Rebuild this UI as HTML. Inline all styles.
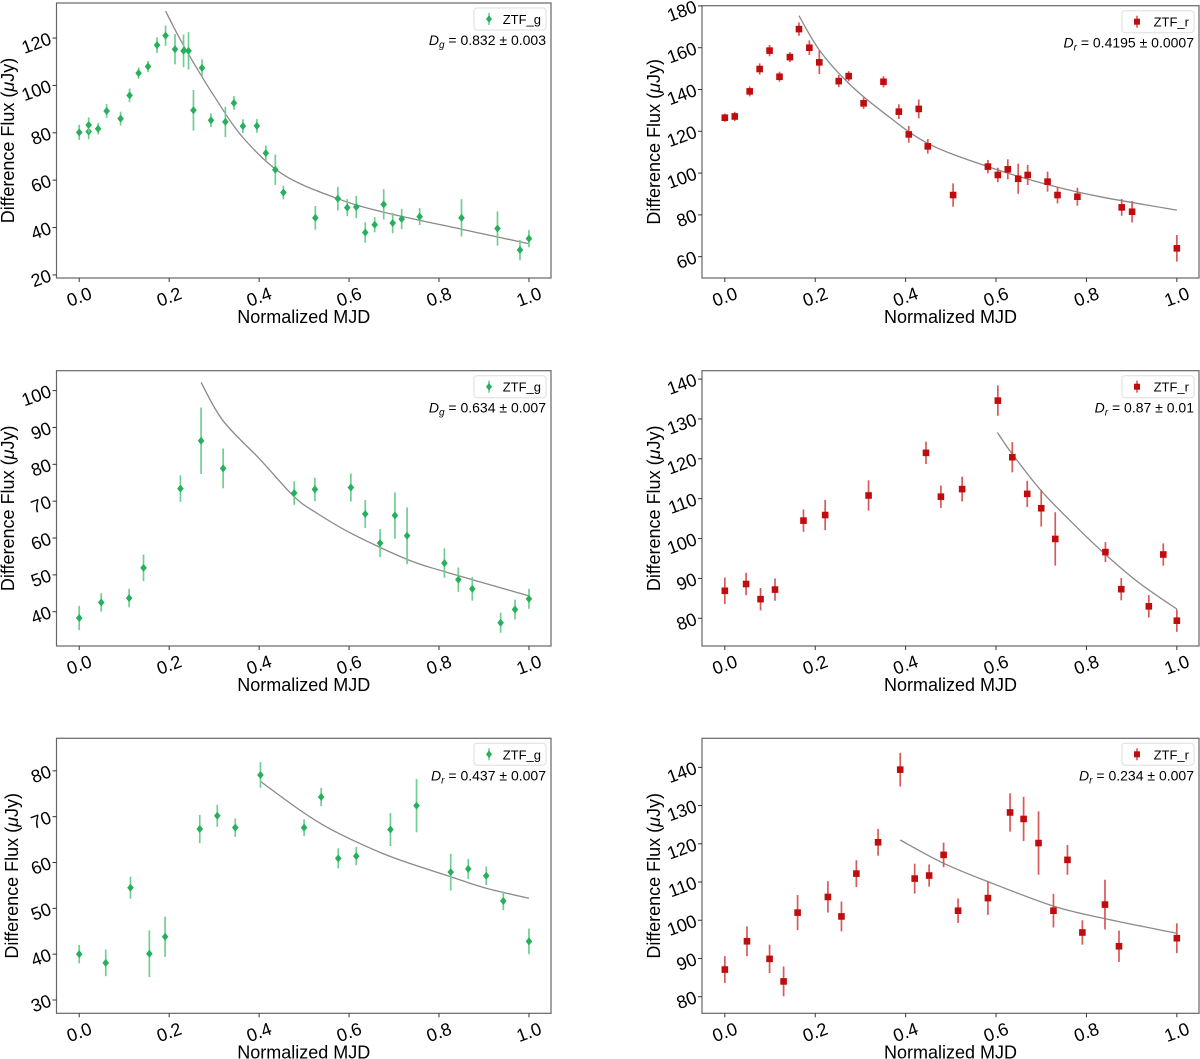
<!DOCTYPE html>
<html><head><meta charset="utf-8"><style>
html,body{margin:0;padding:0;background:#fff;}
svg{display:block;font-family:"Liberation Sans","DejaVu Sans",sans-serif;}
</style></head><body>
<svg id="fig" width="1200" height="1059" viewBox="0 0 1200 1059" xmlns="http://www.w3.org/2000/svg"></svg>
<script>
// ---- Panel 1 (ZTF_g, top left)
const p1X=[0,.021,.021,.042,.061,.092,.112,.132,.153,.173,.192,.213,.232,.243,.254,.273,.293,.325,.344,.364,.395,.415,.436,.454,.525,.575,.596,.616,.636,.657,.677,.697,.717,.757,.85,.93,.98,1.0];
const p1Y=[80.2,80.5,83.3,81.7,89.2,86,95.8,105.2,108,117,121,115.3,114.6,114.6,89.5,107.4,85.3,84.6,92.6,82.8,82.9,71.4,64.4,54.8,44.1,52.2,48.4,48.7,37.9,41.2,49.8,41.9,43.6,44.6,44.1,39.6,30.5,35.3];
const p1E=[3.2,3.2,3.2,2.4,2.9,2.9,2.9,2.4,2.3,3.3,4.3,6.4,6.9,7.9,8.6,3.6,2.9,6.4,2.9,2.9,2.9,3.2,6.4,2.9,5,5,3.6,4.7,4.3,3.2,6.4,4.3,4.3,3.6,7.9,7.2,4.3,3.6];
const p1FitX=[.192,.22,.25,.301,.364,.454,.575,.677,.85,1.0];
const p1FitY=[131.4,121,111,95.2,78,62.3,52.2,46.5,39.3,33.2];
const p1YTicks=[20,40,60,80,100,120];
// ---- Panel 2 (ZTF_r, top right)
const p2X=[0,.022,.055,.077,.099,.121,.144,.164,.187,.209,.252,.274,.307,.351,.385,.407,.429,.449,.505,.582,.604,.626,.649,.67,.714,.736,.78,.878,.901,1.0];
const p2Y=[126.5,127.1,139.1,149.8,158.6,146.1,155.5,168.9,160,153,144,146.4,133.4,143.7,129.4,118.5,130.7,112.8,89.5,103.1,99.1,101.8,97.3,99.1,95.9,89.5,88.7,83.6,81.5,64];
const p2E=[2,2.2,2.4,2.7,2.7,2.4,2.4,3.2,3.5,5.6,2.9,2.4,2.7,2.7,3.5,4,4.5,3.5,5.6,3.2,3.5,4.8,7.2,4.8,4.8,4,4.3,4,5.1,6.4];
const p2FitX=[.164,.209,.274,.353,.449,.582,.714,.83,1.0];
const p2FitY=[175.3,158.9,142.9,128.6,114.2,103.1,94.5,88.7,82.3];
const p2YTicks=[60,80,100,120,140,160,180];
// ---- Panel 3 (ZTF_g, middle left)
const p3X=[0,.049,.111,.143,.225,.271,.32,.478,.524,.604,.636,.669,.702,.729,.812,.843,.874,.937,.969,1.0];
const p3Y=[38.3,42.5,43.7,51.9,73.4,86.4,78.9,72.2,73.2,73.7,66.5,58.6,66.1,60.6,53.2,48.7,46.2,37,40.6,43.5];
const p3E=[3.3,2.5,2.5,3.6,3.6,9,5.4,3.2,3.2,3.8,3.8,3.8,6.3,7.7,4,3.3,3.2,2.7,2.7,2.7];
const p3FitX=[.271,.32,.403,.478,.524,.604,.729,.812,1.0];
const p3FitY=[102.2,91.8,81.2,71.2,67.1,61.3,54.2,50.9,44.3];
const p3YTicks=[40,50,60,70,80,90,100];
// ---- Panel 4 (ZTF_r, middle right)
const p4X=[0,.047,.079,.111,.174,.222,.318,.445,.478,.525,.604,.636,.669,.7,.731,.842,.877,.938,.97,1.0];
const p4Y=[86.9,88.6,84.8,87.2,104.5,105.9,110.8,121.5,110.5,112.4,134.6,120.4,111.2,107.6,99.9,96.6,87.3,83,96,79.4];
const p4E=[3.3,2.8,2.8,2.8,2.8,3.8,3.8,2.8,2.8,3.1,3.8,3.8,3.3,4.6,6.7,2.5,2.8,2.8,2.8,2.8];
const p4FitX=[.603,.636,.7,.77,.842,.915,1.0];
const p4FitY=[126.6,121.2,112,103.8,96,89,82.3];
const p4YTicks=[80,90,100,110,120,130,140];
// ---- Panel 5 (ZTF_g, bottom left)
const p5X=[0,.059,.114,.156,.191,.268,.307,.347,.403,.5,.538,.576,.616,.692,.75,.826,.865,.905,.943,1.0];
const p5Y=[40,38.1,54.5,40.1,43.8,67.3,70.2,67.6,79.1,67.6,74.3,60.9,61.4,67.2,72.4,57.9,58.6,57.1,51.6,42.8];
const p5E=[2,2.9,2.4,5.1,4.4,3.1,2.4,2,2.8,1.8,2,2.2,2,3.6,5.8,4,2.2,2,2,2.8];
const p5FitX=[.403,.5,.576,.692,.826,.905,1.0];
const p5FitY=[77.7,70.8,66.4,61.3,56.9,54.4,52.2];
const p5YTicks=[30,40,50,60,70,80];
// ---- Panel 6 (ZTF_r, bottom right)
const p6X=[0,.049,.099,.13,.161,.228,.258,.291,.339,.388,.42,.452,.484,.516,.582,.631,.661,.694,.727,.758,.791,.841,.872,1.0];
const p6Y=[87.1,94.5,89.9,84,102,106.1,101,112.2,120.4,139.4,110.9,111.7,117.1,102.5,105.8,128.2,126.5,120.2,102.5,115.8,96.8,104.1,93.2,95.3];
const p6E=[3.5,3.9,3.7,3.9,4.6,4.1,3.9,3.5,3.5,4.4,3.9,2.9,3.2,3.2,4.4,5,5.8,8.3,4.4,3.9,3.2,6.5,4.1,3.9];
const p6FitX=[.388,.484,.582,.727,.842,1.0];
const p6FitY=[121,114.9,110.1,103.7,100.4,96.6];
const p6YTicks=[80,90,100,110,120,130,140];
const xTickVals=[0,0.2,0.4,0.6,0.8,1.0];
const xTickLabels=["0.0","0.2","0.4","0.6","0.8","1.0"];

const NS="http://www.w3.org/2000/svg";
const svg=document.getElementById('fig');
function mk(tag,attrs,parent){const e=document.createElementNS(NS,tag);for(const k in attrs)e.setAttribute(k,attrs[k]);(parent||svg).appendChild(e);return e;}
function smoothPath(P){
  let d=`M${P[0][0].toFixed(1)},${P[0][1].toFixed(1)}`;
  for(let i=0;i<P.length-1;i++){
    const p0=P[i-1]||P[i],p1=P[i],p2=P[i+1],p3=P[i+2]||p2;
    const c1=[p1[0]+(p2[0]-p0[0])/6,p1[1]+(p2[1]-p0[1])/6];
    const c2=[p2[0]-(p3[0]-p1[0])/6,p2[1]-(p3[1]-p1[1])/6];
    d+=` C${c1[0].toFixed(1)},${c1[1].toFixed(1)} ${c2[0].toFixed(1)},${c2[1].toFixed(1)} ${p2[0].toFixed(1)},${p2[1].toFixed(1)}`;
  }
  return d;
}

function panel(cfg){
  const g=mk('g',{});
  
  
  const L=cfg.l,R=cfg.r,T=cfg.t,B=cfg.b;
  const xmin=-0.0505,xmax=1.049;
  const sx=v=>L+(v-xmin)/(xmax-xmin)*(R-L);
  const sy=v=>B-(v-cfg.ymin)/(cfg.ymax-cfg.ymin)*(B-T);
  const frame=mk('rect',{x:L,y:T,width:R-L,height:B-T,fill:'none',stroke:'#666','stroke-width':1.2},g);
  
  
  xTickVals.forEach((v,i)=>{
    const x=sx(v);
    mk('line',{x1:x,y1:B,x2:x,y2:B+4,stroke:'#333','stroke-width':1},g);
    const t=mk('text',{x:x,y:B+25,'font-size':18,'text-anchor':'middle',fill:'#000',transform:`rotate(-20 ${x} ${B+19})`},g);
    t.textContent=xTickLabels[i];
    
    
  });
  cfg.yticks.forEach(v=>{
    const y=sy(v);
    mk('line',{x1:L-4,y1:y,x2:L,y2:y,stroke:'#333','stroke-width':1},g);
    const t=mk('text',{x:L-6,y:y+6,'font-size':18,'text-anchor':'end',fill:'#000',transform:`rotate(-20 ${L-6} ${y})`},g);
    t.textContent=String(v);
    
    
  });
  const xl=mk('text',{x:(L+R)/2,y:B+45,'font-size':18,'text-anchor':'middle',fill:'#000'},g);
  xl.textContent='Normalized MJD';
  
  
  const ylx=cfg.ylx, yly=(T+B)/2;
  const yl=mk('text',{x:ylx,y:yly,'font-size':18,'text-anchor':'middle',fill:'#000',transform:`rotate(-90 ${ylx} ${yly})`},g);
  yl.innerHTML='Difference Flux (<tspan font-style="italic">μ</tspan>Jy)';
  
  
  const P=cfg.fx.map((v,i)=>[sx(v),sy(cfg.fy[i])]);
  const fl=mk('path',{d:smoothPath(P),fill:'none',stroke:'#8a8a8a','stroke-width':1.3},g);
  
  
  cfg.x.forEach((v,i)=>{
    const x=sx(v),y=sy(cfg.y[i]);
    const eb=mk('line',{x1:x,y1:sy(cfg.y[i]-cfg.e[i]),x2:x,y2:sy(cfg.y[i]+cfg.e[i]),stroke:cfg.ecol,'stroke-width':1.7},g);
    
    
    let m;
    if(cfg.marker==='d'){m=mk('polygon',{points:`${x},${y-4} ${x+3.3},${y} ${x},${y+4} ${x-3.3},${y}`,fill:cfg.col},g);}
    else{m=mk('rect',{x:x-3.3,y:y-3.3,width:6.6,height:6.6,fill:cfg.col},g);}
    
    
  });
  const lg=mk('g',{},g);
  
  
  mk('rect',{x:R-77,y:T+5,width:72,height:22,rx:3,fill:'#fff',stroke:'#ddd','stroke-width':1},lg);
  const mx=R-62,my=T+16;
  mk('line',{x1:mx,y1:my-6,x2:mx,y2:my+6,stroke:cfg.ecol,'stroke-width':1.6},lg);
  if(cfg.marker==='d')mk('polygon',{points:`${mx},${my-3.8} ${mx+3},${my} ${mx},${my+3.8} ${mx-3},${my}`,fill:cfg.col},lg);
  else mk('rect',{x:mx-3,y:my-3,width:6,height:6,fill:cfg.col},lg);
  const lt=mk('text',{x:R-10,y:my+5,'font-size':13,'text-anchor':'end',fill:'#000'},lg);
  lt.textContent=cfg.label;
  const an=mk('text',{x:R-5,y:T+42,'font-size':14,'text-anchor':'end',fill:'#000'},g);
  an.innerHTML=`<tspan font-style="italic">D</tspan><tspan font-style="italic" font-size="10" dy="3">${cfg.sub}</tspan><tspan dy="-3"> = ${cfg.ann}</tspan>`;
  
  
}
const G='#25b05c',GE='#6fcf92',Rc='#bf0d0d',RE='#d65a5a';
panel({name:'panel-top-left',l:56.5,r:551,t:3,b:278,ymin:18.7,ymax:134.8,yticks:p1YTicks,x:p1X,y:p1Y,e:p1E,fx:p1FitX,fy:p1FitY,col:G,ecol:GE,marker:'d',label:'ZTF_g',sub:'g',ann:'0.832 ± 0.003',ylx:14});
panel({name:'panel-top-right',l:702,r:1199,t:5.7,b:278,ymin:49.8,ymax:180.1,yticks:p2YTicks,x:p2X,y:p2Y,e:p2E,fx:p2FitX,fy:p2FitY,col:Rc,ecol:RE,marker:'s',label:'ZTF_r',sub:'r',ann:'0.4195 ± 0.0007',ylx:660});
panel({name:'panel-middle-left',l:56.5,r:551,t:370.7,b:646,ymin:30.7,ymax:105.4,yticks:p3YTicks,x:p3X,y:p3Y,e:p3E,fx:p3FitX,fy:p3FitY,col:G,ecol:GE,marker:'d',label:'ZTF_g',sub:'g',ann:'0.634 ± 0.007',ylx:14});
panel({name:'panel-middle-right',l:702,r:1199,t:370.7,b:646,ymin:73.05,ymax:142.1,yticks:p4YTicks,x:p4X,y:p4Y,e:p4E,fx:p4FitX,fy:p4FitY,col:Rc,ecol:RE,marker:'s',label:'ZTF_r',sub:'r',ann:'0.87 ± 0.01',ylx:660});
panel({name:'panel-bottom-left',l:56.5,r:551,t:738.3,b:1013.3,ymin:27.1,ymax:87.1,yticks:p5YTicks,x:p5X,y:p5Y,e:p5E,fx:p5FitX,fy:p5FitY,col:G,ecol:GE,marker:'d',label:'ZTF_g',sub:'r',ann:'0.437 ± 0.007',ylx:18});
panel({name:'panel-bottom-right',l:702,r:1199,t:738.3,b:1013.3,ymin:75.66,ymax:147.6,yticks:p6YTicks,x:p6X,y:p6Y,e:p6E,fx:p6FitX,fy:p6FitY,col:Rc,ecol:RE,marker:'s',label:'ZTF_r',sub:'r',ann:'0.234 ± 0.007',ylx:660});
</script>
</body></html>
